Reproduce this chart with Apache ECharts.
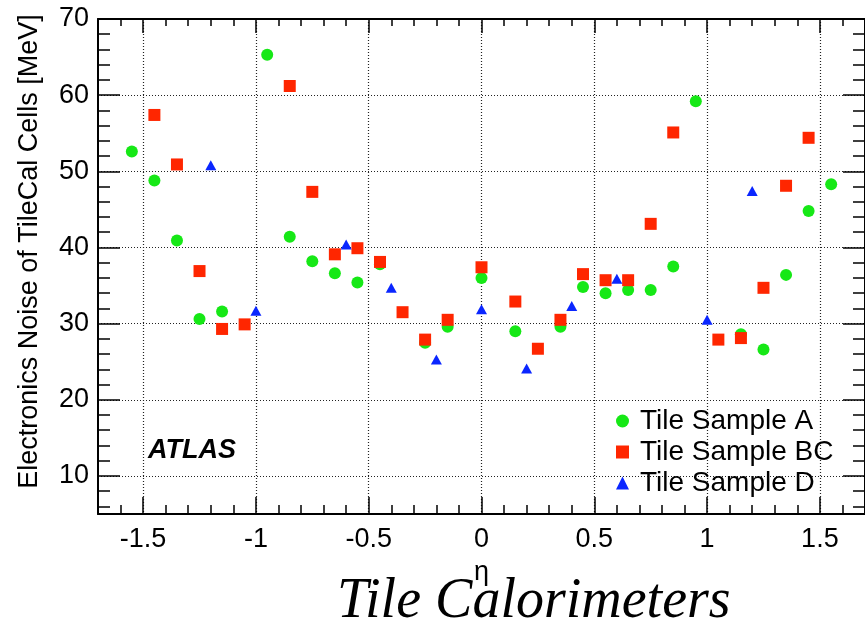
<!DOCTYPE html>
<html>
<head>
<meta charset="utf-8">
<title>Tile Calorimeters noise</title>
<script src="https://cdn.jsdelivr.net/npm/echarts@6/dist/echarts.min.js"></script>
<style>
  html, body { margin: 0; padding: 0; background: #fff; }
  #chart { width: 865px; height: 622px; }
</style>
</head>
<body>
<div id="chart"></div>
<script>
// values
const etaA = [-1.55, -1.45, -1.35, -1.25, -1.15, -0.95, -0.85, -0.75, -0.65, -0.55, -0.45, -0.25, -0.15, 0,
  0.15, 0.35, 0.45, 0.55, 0.65, 0.75, 0.85, 0.95, 1.15, 1.25, 1.35, 1.45, 1.55];
const noiseA = [52.6, 48.8, 40.9, 30.6, 31.6, 65.3, 41.4, 38.2, 36.6, 35.4, 37.8, 27.5, 29.6, 36.0,
  29.0, 29.6, 34.8, 34.0, 34.4, 34.4, 37.5, 59.2, 28.6, 26.6, 36.4, 44.8, 48.3];

const etaBC = [-1.45, -1.35, -1.25, -1.15, -1.05, -0.85, -0.75, -0.65, -0.55, -0.45, -0.35, -0.25, -0.15, 0,
  0.15, 0.25, 0.35, 0.45, 0.55, 0.65, 0.75, 0.85, 1.05, 1.15, 1.25, 1.35, 1.45];
const noiseBC = [57.4, 50.9, 36.9, 29.3, 29.9, 61.2, 47.3, 39.1, 39.9, 38.1, 31.5, 27.9, 30.5, 37.4,
  32.9, 26.7, 30.5, 36.5, 35.7, 35.7, 43.1, 55.1, 27.9, 28.1, 34.7, 48.1, 54.4];

const etaD = [-1.2, -1.0, -0.6, -0.4, -0.2, 0, 0.2, 0.4, 0.6, 1.0, 1.2];
const noiseD = [50.8, 31.7, 40.4, 34.7, 25.3, 31.9, 24.1, 32.3, 35.9, 30.5, 47.4];

const seriesNames = ['Tile Sample A', 'Tile Sample BC', 'Tile Sample D'];

// tick positions
const xMajor = [-1.5, -1, -0.5, 0, 0.5, 1, 1.5];
const xMinor = [-1.7, -1.6, -1.5, -1.4, -1.3, -1.2, -1.1, -1.0, -0.9, -0.8, -0.7, -0.6, -0.5, -0.4, -0.3, -0.2, -0.1, 0,
  0.1, 0.2, 0.3, 0.4, 0.5, 0.6, 0.7, 0.8, 0.9, 1.0, 1.1, 1.2, 1.3, 1.4, 1.5, 1.6, 1.7];
const yMajor = [10, 20, 30, 40, 50, 60, 70];
const yMinor = [6, 8, 10, 12, 14, 16, 18, 20, 22, 24, 26, 28, 30, 32, 34, 36, 38, 40, 42, 44, 46, 48, 50,
  52, 54, 56, 58, 60, 62, 64, 66, 68, 70];

const font = 'Liberation Sans, Arial, Helvetica, sans-serif';

function pairs(xs, ys) {
  return xs.map((x, i) => [x, ys[i]]);
}

// one axis per tick kind so the frame gets major + minor ticks on all four sides
function xAx(pos, vals, len, main) {
  return {
    type: 'value', position: pos, min: -1.7, max: 1.7,
    axisLine: { show: main, onZero: false, lineStyle: { color: '#000', width: 2 } },
    axisTick: { show: true, inside: true, length: len, customValues: vals, lineStyle: { color: '#000', width: 1.5 } },
    axisLabel: main && pos === 'bottom'
      ? { show: true, customValues: xMajor, color: '#000', fontSize: 27, fontFamily: font, margin: 12 }
      : { show: false },
    splitLine: main && pos === 'bottom'
      ? { show: true, lineStyle: { color: '#222', width: 1.2, type: [1, 2] } }
      : { show: false }
  };
}
function yAx(pos, vals, len, main) {
  return {
    type: 'value', position: pos, min: 5, max: 70,
    axisLine: { show: main, onZero: false, lineStyle: { color: '#000', width: 2 } },
    axisTick: { show: true, inside: true, length: len, customValues: vals, lineStyle: { color: '#000', width: 1.5 } },
    axisLabel: main && pos === 'left'
      ? { show: true, customValues: yMajor, color: '#000', fontSize: 27, fontFamily: font, margin: 9 }
      : { show: false },
    splitLine: main && pos === 'left'
      ? { show: true, lineStyle: { color: '#222', width: 1.2, type: [1, 2] } }
      : { show: false }
  };
}

const chart = echarts.init(document.getElementById('chart'));

const xAxes = [
  xAx('bottom', xMajor, 17, true),
  xAx('bottom', xMinor, 9, false),
  xAx('top', xMajor, 14, true),
  xAx('top', xMinor, 7, false)
];
xAxes[0].name = 'η';
xAxes[0].nameLocation = 'middle';
xAxes[0].nameGap = 45;
xAxes[0].nameTextStyle = { color: '#000', fontSize: 27, fontFamily: font };

const yAxes = [
  yAx('left', yMajor, 22, true),
  yAx('left', yMinor, 12, false),
  yAx('right', yMajor, 22, true),
  yAx('right', yMinor, 12, false)
];
yAxes[0].name = 'Electronics Noise of TileCal Cells [MeV]';
yAxes[0].nameLocation = 'middle';
yAxes[0].nameGap = 55;
yAxes[0].nameTextStyle = { color: '#000', fontSize: 27, fontFamily: font, padding: [0, 0, 0, 30] };

const option = {
  backgroundColor: '#fff',
  animation: false,
  title: {
    text: 'Tile Calorimeters',
    left: 332, top: 569,
    textStyle: { fontFamily: 'Liberation Serif, Times New Roman, serif', fontStyle: 'italic',
      fontWeight: 'normal', fontSize: 56, color: '#000' }
  },
  grid: { left: 98, top: 19, width: 770, height: 495 },
  xAxis: xAxes,
  yAxis: yAxes,
  legend: {
    orient: 'vertical', left: 611, top: 402, itemGap: 3,
    itemWidth: 13, itemHeight: 13,
    data: seriesNames,
    textStyle: { color: '#000', fontSize: 28, fontFamily: font, padding: [0, 0, 0, 6] }
  },
  graphic: [{
    type: 'text', left: 148, top: 437,
    style: { text: 'ATLAS', fill: '#000', font: 'italic bold 27px Liberation Sans, Arial, sans-serif' }
  }],
  series: [
    { name: seriesNames[0], type: 'scatter', symbol: 'circle', symbolSize: 12,
      itemStyle: { color: '#16e816', opacity: 1 }, data: pairs(etaA, noiseA) },
    { name: seriesNames[1], type: 'scatter', symbol: 'rect', symbolSize: 12,
      itemStyle: { color: '#ff2600', opacity: 1 }, data: pairs(etaBC, noiseBC) },
    { name: seriesNames[2], type: 'scatter', symbol: 'triangle', symbolSize: [11, 10],
      itemStyle: { color: '#0a26ff', opacity: 1 }, data: pairs(etaD, noiseD) }
  ]
};

chart.setOption(option);
</script>
</body>
</html>
